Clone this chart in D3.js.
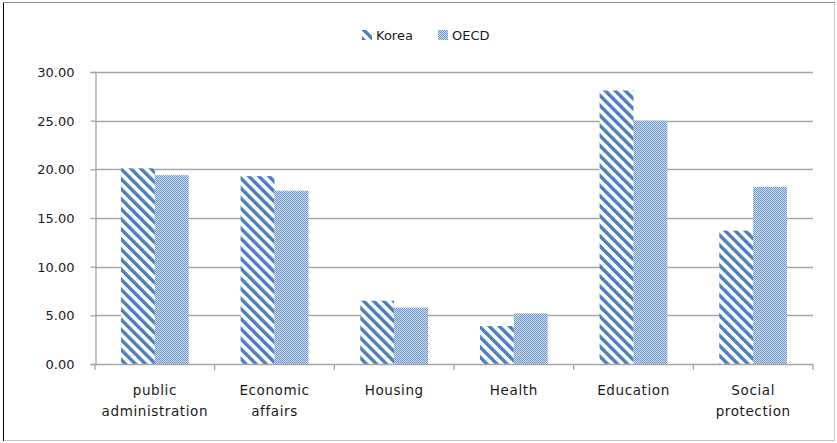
<!DOCTYPE html>
<html><head><meta charset="utf-8">
<script src="https://cdn.jsdelivr.net/npm/d3@7"></script>
<style>body{margin:0;background:#fff}svg{display:block}</style>
</head><body>
<script>
const categories = [["public","administration"],["Economic","affairs"],["Housing"],["Health"],["Education"],["Social","protection"]];
const seriesNames = ["Korea","OECD"];
const korea = [20.1, 19.3, 6.5, 3.9, 28.1, 13.7];
const oecd = [19.4, 17.8, 5.8, 5.2, 25.0, 18.2];
const yTicks = [0,5,10,15,20,25,30];

const W = 837, H = 443;
const m = {l:95, r:813, t:72, b:364};
const svg = d3.select("body").append("svg").attr("width",W).attr("height",H);
const defs = svg.append("defs");
const P = 7.1;
const pk = defs.append("pattern").attr("id","pk").attr("patternUnits","userSpaceOnUse")
  .attr("width",P).attr("height",P).attr("patternTransform","rotate(-45)");
pk.append("rect").attr("width",P).attr("height",P).attr("fill","#fff");
pk.append("rect").attr("width",3.4).attr("height",P).attr("fill","#4a7ebf");
const po = defs.append("pattern").attr("id","po").attr("patternUnits","userSpaceOnUse")
  .attr("width",2).attr("height",2);
po.append("rect").attr("width",2).attr("height",2).attr("fill","#d3e0f1");
po.append("rect").attr("width",1).attr("height",1).attr("fill","#6892cc");
po.append("rect").attr("x",1).attr("y",1).attr("width",1).attr("height",1).attr("fill","#6892cc");

// outer border
svg.append("rect").attr("x",3.5).attr("y",2.5).attr("width",831).attr("height",438)
  .attr("fill","none").attr("stroke","#c8c8c8");
svg.append("line").attr("x1",3.5).attr("x2",3.5).attr("y1",2).attr("y2",441).attr("stroke","#000");
svg.append("line").attr("x1",3).attr("x2",835).attr("y1",2.5).attr("y2",2.5).attr("stroke","#8a8a8a");

const x = d3.scaleBand().domain(d3.range(categories.length)).range([m.l,m.r]);
const y = d3.scaleLinear().domain([0,30]).range([m.b,m.t]);
const inner = d3.scaleBand().domain(seriesNames).range([0,x.bandwidth()]).paddingInner(0).paddingOuter(0.765);

// gridlines
svg.append("g").selectAll("line").data(yTicks.filter(d=>d>0)).join("line")
  .attr("x1",m.l).attr("x2",m.r).attr("y1",d=>Math.round(y(d))+0.5).attr("y2",d=>Math.round(y(d))+0.5)
  .attr("stroke","#a6a6a6").attr("stroke-width",1.3);

// bars
const fills = {Korea:"url(#pk)", OECD:"url(#po)"};
const data = [];
categories.forEach((c,i)=>{ data.push({i,s:"Korea",v:korea[i]}); data.push({i,s:"OECD",v:oecd[i]}); });
svg.append("g").selectAll("rect").data(data).join("rect")
  .attr("x",d=>x(d.i)+inner(d.s)).attr("width",inner.bandwidth())
  .attr("y",d=>y(d.v)).attr("height",d=>y(0)-y(d.v)).attr("fill",d=>fills[d.s]);

const FF = "DejaVu Sans, Verdana, sans-serif";
// y axis
const ya = svg.append("g").attr("transform",`translate(${m.l+0.5},0)`)
  .call(d3.axisLeft(y).tickValues(yTicks).tickFormat(d3.format(".2f")).tickSize(5).tickPadding(16));
ya.select(".domain").attr("stroke","#a6a6a6").attr("stroke-width",1.3);
ya.selectAll(".tick line").attr("stroke","#a6a6a6").attr("stroke-width",1.3);
ya.selectAll("text").attr("font-family",FF).attr("font-size",13).attr("fill","#1a1a1a").attr("dy","0.35em");

// x axis
const xa = svg.append("g");
xa.append("line").attr("x1",m.l).attr("x2",m.r).attr("y1",m.b+0.5).attr("y2",m.b+0.5).attr("stroke","#a6a6a6").attr("stroke-width",1.3);
const bounds = d3.range(categories.length+1).map(i=> i<categories.length ? x(i) : m.r);
xa.selectAll("line.t").data(bounds).join("line").attr("class","t")
  .attr("x1",d=>d).attr("x2",d=>d).attr("y1",m.b).attr("y2",m.b+6).attr("stroke","#a6a6a6").attr("stroke-width",1.3);
const lab = xa.selectAll("text").data(categories).join("text")
  .attr("text-anchor","middle").attr("font-family",FF).attr("font-size",13.5).attr("letter-spacing","0.6px").attr("fill","#1a1a1a")
  .attr("transform",(d,i)=>`translate(${x(i)+x.bandwidth()/2},395)`);
lab.selectAll("tspan").data(d=>d).join("tspan").attr("x",0).attr("dy",(d,j)=>j===0?0:21).text(d=>d);

// legend
const lg = svg.append("g").attr("font-family",FF).attr("font-size",13).attr("fill","#1a1a1a");
const lpos = [{s:"Korea",x:362},{s:"OECD",x:438}];
lpos.forEach(p=>{
  lg.append("rect").attr("x",p.x).attr("y",30).attr("width",10).attr("height",10).attr("fill",fills[p.s]);
  lg.append("text").attr("x",p.x+14).attr("y",40).text(p.s);
});
</script>
</body></html>
